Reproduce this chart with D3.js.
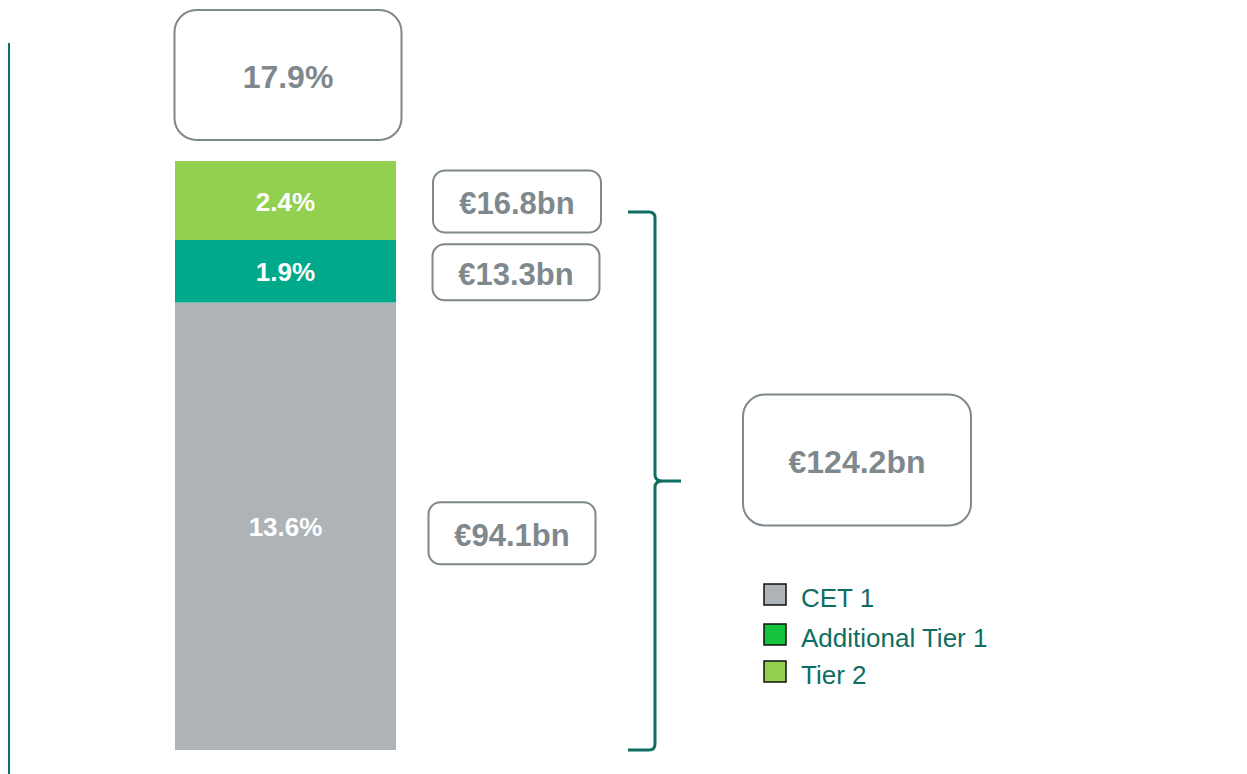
<!DOCTYPE html>
<html>
<head>
<meta charset="utf-8">
<script src="https://cdn.jsdelivr.net/npm/d3@7"></script>
<style>
  body { margin: 0; background: #fff; }
  text { font-family: "Liberation Sans", Arial, sans-serif; }
</style>
</head>
<body>
<svg width="1247" height="774"></svg>
<script>
// capital components, stacked bottom-up
var categories = ["CET 1", "Additional Tier 1", "Tier 2"];
var ratios = [13.6, 1.9, 2.4];
var amounts = ["€94.1bn", "€13.3bn", "€16.8bn"];
var totalRatio = "17.9%";
var totalAmount = "€124.2bn";

var barColors = ["#adb3b6", "#00a98a", "#92d050"];
var legendColors = ["#adb3b6", "#14c23c", "#92d050"];
var teal = "#0f6e62", boxGrey = "#7f888d";

var svg = d3.select("svg");

var total = d3.sum(ratios);
var y = d3.scaleLinear().domain([0, total]).range([750, 161]);
var x = d3.scaleBand().domain(["bar"]).range([175, 396]).padding(0);

// stack
var segs = [], acc = 0;
ratios.forEach(function (v, i) {
    segs.push({ i: i, y0: acc, y1: acc + v, v: v });
    acc += v;
});

// left axis line
svg.append("line")
    .attr("x1", 9).attr("x2", 9)
    .attr("y1", 43).attr("y2", 774)
    .attr("stroke", teal).attr("stroke-width", 2);

// bars
svg.selectAll(".seg").data(segs).enter().append("rect")
    .attr("class", "seg")
    .attr("x", x("bar"))
    .attr("width", x.bandwidth())
    .attr("y", function (d) { return y(d.y1); })
    .attr("height", function (d) { return y(d.y0) - y(d.y1); })
    .attr("fill", function (d) { return barColors[d.i]; });

svg.selectAll(".segLabel").data(segs).enter().append("text")
    .attr("class", "segLabel")
    .attr("x", x("bar") + x.bandwidth() / 2)
    .attr("y", function (d) { return (y(d.y0) + y(d.y1)) / 2 + 1; })
    .attr("dy", "0.35em")
    .attr("text-anchor", "middle")
    .attr("fill", "#fff")
    .attr("font-weight", "bold")
    .attr("font-size", 26)
    .text(function (d) { return d.v.toFixed(1) + "%"; });

// helper for rounded label boxes
function box(cx, cy, w, h, r, label, fs) {
    svg.append("rect")
        .attr("x", cx - w / 2).attr("y", cy - h / 2)
        .attr("width", w).attr("height", h)
        .attr("rx", r).attr("ry", r)
        .attr("fill", "#fff")
        .attr("stroke", boxGrey).attr("stroke-width", 2);
    svg.append("text")
        .attr("x", cx).attr("y", cy + 2)
        .attr("dy", "0.35em")
        .attr("text-anchor", "middle")
        .attr("fill", boxGrey)
        .attr("font-weight", "bold")
        .attr("font-size", fs)
        .text(label);
}

// total ratio box above bar
box(288, 75, 227, 130, 22, totalRatio, 32);

// amount boxes next to each segment
var amtBoxes = [
    { cx: 512, w: 167, h: 62 },
    { cx: 516, w: 167, h: 56 },
    { cx: 517, w: 168, h: 62 }
];
segs.forEach(function (d) {
    var b = amtBoxes[d.i];
    var cy = (y(d.y0) + y(d.y1)) / 2 + (d.i === 0 ? 7 : 1);
    box(b.cx, cy, b.w, b.h, 12, amounts[d.i], 31);
});

// brace
var bTop = 212, bBot = 750, bx = 655, mid = (bTop + bBot) / 2;
var brace = d3.path();
brace.moveTo(628, bTop);
brace.lineTo(bx - 6, bTop);
brace.quadraticCurveTo(bx, bTop, bx, bTop + 6);
brace.lineTo(bx, mid - 6);
brace.quadraticCurveTo(bx, mid, bx + 8, mid);
brace.lineTo(681, mid);
brace.moveTo(bx + 8, mid);
brace.quadraticCurveTo(bx, mid, bx, mid + 6);
brace.lineTo(bx, bBot - 6);
brace.quadraticCurveTo(bx, bBot, bx - 6, bBot);
brace.lineTo(628, bBot);
svg.append("path")
    .attr("d", brace.toString())
    .attr("fill", "none")
    .attr("stroke", teal).attr("stroke-width", 3);

// total amount box
box(857, 460, 228, 131, 22, totalAmount, 32);

// legend
var legY = [594, 634, 671];
var leg = svg.selectAll(".leg").data(categories).enter().append("g")
    .attr("class", "leg")
    .attr("transform", function (d, i) { return "translate(763," + legY[i] + ")"; });
leg.append("rect")
    .attr("x", 1).attr("y", -10)
    .attr("width", 22).attr("height", 21)
    .attr("fill", function (d, i) { return legendColors[i]; })
    .attr("stroke", "#111").attr("stroke-width", 1.5);
leg.append("text")
    .attr("x", 38).attr("y", 4)
    .attr("dy", "0.35em")
    .attr("fill", teal)
    .attr("font-size", 26)
    .text(function (d) { return d; });
</script>
</body>
</html>
